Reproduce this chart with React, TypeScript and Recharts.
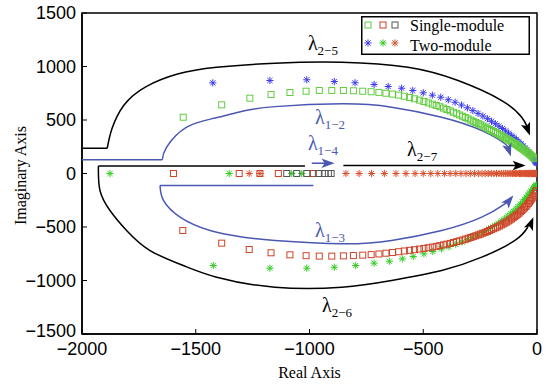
import React from 'react';
import { ScatterChart, Scatter, XAxis, YAxis, ReferenceArea, Legend } from 'recharts';

type P = [number, number];

const xTicks = [-2000, -1500, -1000, -500, 0];
const yTicks = [-1500, -1000, -500, 0, 500, 1000, 1500];

// Single-module eigenvalues (squares)
const singleUpper: P[] = [
  [-1555, 526], [-1386, 642], [-1262, 704], [-1169, 738], [-1086, 757], [-1015, 769], [-957, 776],
  [-902, 776], [-851, 776], [-807, 773], [-766, 769], [-729, 764], [-695, 758], [-664, 750],
  [-635, 742], [-608, 733], [-583, 722], [-560, 710], [-538, 698], [-517, 686], [-497, 673],
  [-478, 660], [-460, 648], [-443, 636], [-427, 624], [-411, 611], [-396, 598], [-381, 585],
  [-367, 572], [-353, 559], [-340, 547], [-327, 535], [-315, 523], [-303, 511], [-291, 499],
  [-280, 488], [-269, 477], [-258, 466], [-248, 455], [-238, 444], [-228, 433], [-218, 422],
  [-209, 412], [-200, 402], [-191, 392], [-182, 382], [-174, 372], [-165, 362], [-157, 352],
  [-149, 343], [-141, 334], [-134, 325], [-126, 316], [-119, 307], [-112, 298], [-105, 289],
  [-98, 280], [-92, 271], [-85, 262], [-79, 253], [-73, 244], [-67, 235], [-61, 226], [-55, 217],
  [-49, 208], [-44, 199], [-38, 190], [-33, 181], [-28, 172], [-23, 163], [-18, 154], [-14, 146],
  [-10, 138],
];
const singleLower: P[] = [
  [-1598, 0], [-1309, 0], [-1218, 0], [-1137, 0], [-983, 0],
  [-1557, -533], [-1386, -651], [-1265, -710], [-1169, -741], [-1086, -760], [-1015, -768],
  [-957, -772], [-902, -772], [-851, -770], [-807, -767], [-766, -763], [-729, -758], [-695, -752],
  [-664, -745], [-635, -738], [-608, -731], [-583, -724], [-560, -718], [-538, -712], [-517, -706],
  [-497, -700], [-478, -694], [-460, -688], [-443, -681], [-427, -674], [-411, -667], [-396, -660],
  [-381, -653], [-367, -645], [-353, -637], [-340, -630], [-327, -622], [-315, -614], [-303, -606],
  [-291, -598], [-280, -590], [-269, -582], [-258, -574], [-248, -566], [-238, -558], [-228, -550],
  [-218, -542], [-209, -533], [-200, -524], [-191, -516], [-182, -507], [-174, -499], [-165, -490],
  [-157, -481], [-149, -472], [-141, -463], [-134, -454], [-126, -444], [-119, -434], [-112, -424],
  [-105, -414], [-98, -403], [-92, -392], [-85, -381], [-79, -370], [-73, -358], [-67, -346],
  [-61, -334], [-55, -321], [-49, -308], [-44, -295], [-38, -280], [-33, -266], [-28, -251],
  [-23, -236], [-18, -220], [-14, -204], [-10, -188], [-6, -172], [-3, -160],
];
const singleRealRe = [-1100, -1056, -1012, -961, -932, -917, -905];

// Two-module eigenvalues (asterisks)
const twoUpper: P[] = [
  [-1425, 847], [-1174, 869], [-1012, 876], [-891, 860], [-800, 848], [-716, 832], [-654, 813],
  [-595, 797], [-546, 776], [-500, 754], [-460, 732], [-423, 713], [-390, 689], [-360, 666],
  [-332, 640], [-306, 614], [-282, 588], [-259, 562], [-238, 537], [-218, 512], [-200, 488],
  [-183, 465], [-167, 442], [-152, 420], [-138, 398], [-125, 377], [-113, 356], [-101, 336],
  [-90, 316], [-80, 296], [-70, 276], [-61, 257], [-52, 238], [-44, 219], [-37, 200], [-30, 182],
  [-24, 164], [-18, 146], [-13, 130], [-9, 116], [-6, 106], [-4, 100], [-2, 96],
];
const twoLower: P[] = [
  [-1877, 0], [-1353, 0], [-1078, 0], [-1034, 0],
  [-1423, -860], [-1174, -885], [-1012, -885], [-891, -876], [-797, -860], [-716, -838],
  [-649, -820], [-592, -798], [-544, -776], [-497, -751], [-458, -729], [-420, -706], [-387, -684],
  [-357, -662], [-330, -640], [-305, -618], [-282, -596], [-260, -574], [-240, -552], [-221, -530],
  [-203, -508], [-186, -486], [-170, -464], [-155, -442], [-141, -420], [-128, -398], [-116, -376],
  [-104, -354], [-93, -332], [-83, -310], [-73, -288], [-64, -266], [-55, -244], [-47, -222],
  [-40, -202], [-33, -182], [-27, -164], [-21, -148], [-15, -134], [-10, -122], [-6, -114], [-3, -108],
];
const twoRealRe = [
  -1265, -1218, -840, -782, -727, -671, -620, -576, -536, -500, -467, -436, -407, -382, -357, -334,
  -312, -293, -275, -258, -242, -228, -214, -201, -189, -178, -167, -157, -148, -139, -131, -123,
  -115, -108, -101, -95, -89, -83, -77, -72, -67, -62, -57, -53, -49, -45, -41, -37, -34, -30, -27,
  -24, -21, -18, -15, -12, -10, -8, -6, -4, -2,
];

// annotation paths (data coordinates)
const lam25Flat: P[] = [[-2000, 236], [-1889, 236]];
const lam25Arc: P[] = [
  [-1889, 236], [-1868, 420], [-1815, 640], [-1720, 810], [-1580, 930], [-1408, 993], [-1152, 1031],
  [-858, 1040], [-567, 993], [-347, 869], [-155, 682], [-67, 526], [-42, 430],
];
const lam12Flat: P[] = [[-2000, 128], [-1647, 128]];
const lam12Arc: P[] = [
  [-1647, 128], [-1628, 246], [-1540, 433], [-1415, 518], [-1300, 580], [-1152, 625], [-858, 651],
  [-639, 620], [-419, 526], [-243, 402], [-141, 278], [-122, 215],
];
const lam27Flat: P[] = [[-851, 75], [-60, 75]];
const lam14Flat: P[] = [[-990, 96], [-900, 96]];
const lam26Flat: P[] = [[-1020, 70], [-1928, 70]];
const lam26Arc: P[] = [
  [-1928, 70], [-1921, -159], [-1877, -346], [-1804, -533], [-1701, -720], [-1555, -860],
  [-1408, -969], [-1152, -1063], [-858, -1063], [-639, -1000], [-419, -907], [-243, -782],
  [-97, -626], [-40, -500],
];
const lam13Flat: P[] = [[-983, -112], [-1657, -112]];
const lam13Arc: P[] = [
  [-1657, -112], [-1642, -252], [-1569, -408], [-1437, -533], [-1291, -595], [-1152, -626],
  [-858, -657], [-639, -626], [-419, -533], [-243, -408], [-141, -283], [-118, -245],
];
// arrow tips: re, im, heading (deg, screen)
const blackTips: [number, number, number][] = [[-31, 355, 70], [-50, 75, 0], [-16, -408, -68]];
const blueTips: [number, number, number][] = [[-115, 160, 72], [-890, 96, 0], [-104, -206, -50]];

const blackLabels: [number, number, string][] = [[-1007, 1150, '2−5'], [-571, 168, '2−7'], [-945, -1299, '2−6']];
const blueLabels: [number, number, string][] = [[-976, 467, '1−2'], [-1007, 215, '1−4'], [-976, -598, '1−3']];

const pts = (a: P[]) => a.map(([x, y]) => ({ x, y }));
const realPts = (a: number[]) => a.map((x) => ({ x, y: 0 }));
const tipPts = (a: [number, number, number][]) => a.map(([x, y, angle]) => ({ x, y, angle }));
const labelPts = (a: [number, number, string][]) => a.map(([x, y, sub]) => ({ x, y, sub }));

const BLUE = '#4a58b2';
const GREEN_SQ = '#62cc40';
const RED_SQ = '#cc4428';
const GRAY_SQ = '#555555';
const BLUE_ST = '#3b3bf0';
const GREEN_ST = '#33cc22';
const RED_ST = '#d9502e';
const SANS = "'Liberation Sans', Arial, sans-serif";
const SERIF = "'Liberation Serif', serif";

const square = (color: string) => (p: any) => (
  <rect x={p.cx - 3} y={p.cy - 3} width={6} height={6} fill="none" stroke={color} strokeWidth={1} />
);
const star = (color: string) => (p: any) => {
  const { cx, cy } = p;
  const r = 3.6;
  const d = r * 0.72;
  return (
    <path
      d={`M${cx - r},${cy}H${cx + r}M${cx},${cy - r}V${cy + r}M${cx - d},${cy - d}L${cx + d},${cy + d}M${cx - d},${cy + d}L${cx + d},${cy - d}`}
      stroke={color}
      strokeWidth={1}
      fill="none"
    />
  );
};
const arrow = (color: string) => (p: any) => (
  <path
    d="M0,0 L-13,-4.8 L-10,0 L-13,4.8 Z"
    fill={color}
    transform={`translate(${p.cx},${p.cy}) rotate(${p.payload.angle})`}
  />
);
const lambda = (color: string) => (p: any) => (
  <text x={p.cx} y={p.cy} fill={color} fontFamily={SERIF} fontSize={20}>
    λ<tspan fontSize={13} dy={5}>{p.payload.sub}</tspan>
  </text>
);
const noDot = () => <g />;

const fmt = (v: number) => String(v).replace('-', '−');

const YTick = (p: any) => (
  <text
    x={p.x}
    y={p.y + (p.payload.value === -1500 ? -3 : 0)}
    dy="0.355em"
    textAnchor="end"
    fill="#000"
    fontSize={18}
    fontFamily={SANS}
  >
    {fmt(p.payload.value)}
  </text>
);

const YTitle = (p: any) => {
  const vb = p.viewBox || { y: 13, height: 321 };
  const cy = vb.y + vb.height / 2 + 2;
  return (
    <text x={26} y={cy} transform={`rotate(-90 26 ${cy})`} textAnchor="middle" fill="#000" fontSize={16} fontFamily={SERIF}>
      Imaginary Axis
    </text>
  );
};

function LegendBox() {
  const sq = [GREEN_SQ, RED_SQ, GRAY_SQ];
  const st = [BLUE_ST, GREEN_ST, RED_ST];
  const xs = [7, 22, 34];
  return (
    <svg width={169} height={39} style={{ display: 'block' }}>
      <rect x={0.75} y={0.75} width={167.5} height={37.5} fill="#fff" stroke="#000" strokeWidth={1.5} />
      {xs.map((x, i) => (
        <g key={'s' + i}>{square(sq[i])({ cx: x, cy: 9 })}</g>
      ))}
      {xs.map((x, i) => (
        <g key={'t' + i}>{star(st[i])({ cx: x, cy: 27 })}</g>
      ))}
      <text x={49} y={14.6} fontFamily={SERIF} fontSize={16} fill="#000">Single-module</text>
      <text x={49} y={34.6} fontFamily={SERIF} fontSize={16} fill="#000">Two-module</text>
    </svg>
  );
}

const curve = (data: P[], color: string, natural: boolean, key: string) => (
  <Scatter
    key={key}
    data={pts(data)}
    line={{ stroke: color, strokeWidth: 1.5 }}
    lineJointType={natural ? 'natural' : 'linear'}
    shape={noDot}
    isAnimationActive={false}
  />
);

export default function App() {
  return (
    <div style={{ position: 'absolute', left: 0, top: 0, width: 550, height: 389, background: '#fff' }}>
      <ScatterChart width={550} height={389} margin={{ top: 13, right: 13, bottom: 25, left: 22 }}>
        <XAxis
          type="number"
          dataKey="x"
          domain={[-2000, 0]}
          ticks={xTicks}
          allowDataOverflow
          height={30}
          tickFormatter={fmt}
          tickSize={-5}
          tickMargin={13}
          tick={{ fill: '#000', fontSize: 18, fontFamily: SANS }}
          axisLine={{ stroke: '#000', strokeWidth: 1.5 }}
          tickLine={{ stroke: '#000', strokeWidth: 1 }}
          label={{ value: 'Real Axis', position: 'insideBottom', offset: -14, fill: '#000', fontSize: 16, fontFamily: SERIF }}
        />
        <YAxis
          type="number"
          dataKey="y"
          domain={[-1500, 1500]}
          ticks={yTicks}
          allowDataOverflow
          width={60}
          tickSize={-5}
          tickMargin={11}
          tick={YTick}
          axisLine={{ stroke: '#000', strokeWidth: 1.5 }}
          tickLine={{ stroke: '#000', strokeWidth: 1 }}
          label={{ content: YTitle }}
        />
        <ReferenceArea x1={-2000} x2={0} y1={-1500} y2={1500} fill="none" stroke="#000" strokeWidth={1.5} fillOpacity={0} />
        <Legend
          layout="horizontal"
          verticalAlign="middle"
          align="center"
          wrapperStyle={{ top: 16, left: 361, width: 169, height: 39 }}
          content={() => <LegendBox />}
        />

        {curve(lam25Flat, '#000', false, 'a1')}
        {curve(lam25Arc, '#000', true, 'a2')}
        {curve(lam12Flat, BLUE, false, 'b1')}
        {curve(lam12Arc, BLUE, true, 'b2')}
        {curve(lam27Flat, '#000', false, 'c1')}
        {curve(lam14Flat, BLUE, false, 'd1')}
        {curve(lam26Flat, '#000', false, 'e1')}
        {curve(lam26Arc, '#000', true, 'e2')}
        {curve(lam13Flat, BLUE, false, 'f1')}
        {curve(lam13Arc, BLUE, true, 'f2')}

        <Scatter data={pts(twoUpper)} shape={star(BLUE_ST)} isAnimationActive={false} />
        <Scatter data={pts(twoLower)} shape={star(GREEN_ST)} isAnimationActive={false} />
        <Scatter data={realPts(twoRealRe)} shape={star(RED_ST)} isAnimationActive={false} />
        <Scatter data={pts(singleUpper)} shape={square(GREEN_SQ)} isAnimationActive={false} />
        <Scatter data={pts(singleLower)} shape={square(RED_SQ)} isAnimationActive={false} />
        <Scatter data={realPts(singleRealRe)} shape={square(GRAY_SQ)} isAnimationActive={false} />

        <Scatter data={tipPts(blackTips)} shape={arrow('#000')} isAnimationActive={false} />
        <Scatter data={tipPts(blueTips)} shape={arrow(BLUE)} isAnimationActive={false} />
        <Scatter data={labelPts(blackLabels)} shape={lambda('#000')} isAnimationActive={false} />
        <Scatter data={labelPts(blueLabels)} shape={lambda(BLUE)} isAnimationActive={false} />
      </ScatterChart>
    </div>
  );
}
